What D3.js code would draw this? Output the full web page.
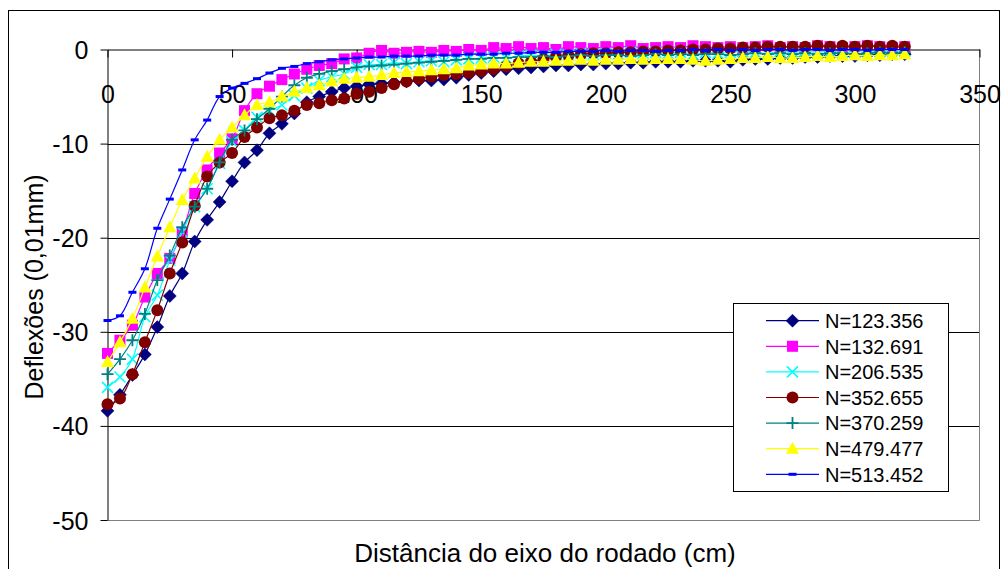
<!DOCTYPE html>
<html><head><meta charset="utf-8">
<script src="https://cdn.jsdelivr.net/npm/d3@7"></script>
<style>
body{margin:0;background:#fff;}
svg{display:block;font-family:"Liberation Sans",Arial,sans-serif;}
</style></head>
<body>
<svg id="c" width="1003" height="569"></svg>
<script>
const distances = [0,5,10,15,20,25,30,35,40,45,50,55,60,65,70,75,80,85,90,95,100,105,110,115,120,125,130,135,140,145,150,155,160,165,170,175,180,185,190,195,200,205,210,215,220,225,230,235,240,245,250,255,260,265,270,275,280,285,290,295,300,305,310,315,320];

const n123356 = [-38.4,-36.7,-34.6,-32.4,-29.5,-26.2,-23.8,-20.4,-18.1,-16.2,-14.0,-12.0,-10.7,-8.9,-7.9,-6.8,-5.6,-5.0,-4.5,-4.1,-3.9,-3.7,-3.6,-3.5,-3.4,-3.3,-3.3,-3.2,-3.0,-2.7,-2.5,-2.3,-2.1,-2.0,-1.9,-1.8,-1.7,-1.7,-1.6,-1.6,-1.5,-1.5,-1.4,-1.4,-1.3,-1.3,-1.3,-1.2,-1.2,-1.2,-1.3,-1.1,-1.0,-1.0,-0.9,-0.9,-0.8,-0.8,-0.7,-0.7,-0.7,-0.6,-0.6,-0.5,-0.5];
const n132691 = [-32.3,-30.9,-29.3,-26.3,-23.8,-22.2,-19.4,-15.3,-12.8,-11.0,-9.5,-6.5,-4.7,-3.9,-3.2,-2.6,-2.1,-1.7,-1.5,-1.0,-0.9,-0.4,-0.1,-0.4,-0.3,-0.2,-0.3,-0.1,-0.2,0.0,-0.1,0.2,0.1,0.3,0.1,0.2,0.0,0.3,0.2,0.1,0.3,0.2,0.4,0.1,0.2,0.3,0.2,0.4,0.3,0.2,0.3,0.2,0.3,0.4,0.2,0.3,0.2,0.4,0.3,0.2,0.3,0.4,0.3,0.2,0.3];
const n206535 = [-35.9,-34.8,-32.9,-28.4,-26.1,-22.4,-19.4,-16.7,-14.8,-12.1,-9.8,-8.6,-7.2,-6.5,-5.9,-4.9,-4.1,-3.3,-2.9,-2.6,-1.9,-1.6,-1.6,-1.4,-1.5,-1.3,-1.2,-1.3,-1.1,-1.0,-0.9,-0.8,-0.9,-0.7,-0.6,-0.7,-0.5,-0.6,-0.4,-0.5,-0.4,-0.5,-0.3,-0.4,-0.3,-0.4,-0.3,-0.5,-0.3,-0.4,-0.3,-0.2,-0.3,-0.4,-0.2,-0.3,-0.2,-0.3,-0.2,-0.3,-0.2,-0.1,-0.2,-0.1,-0.2];
const n352655 = [-37.7,-37.1,-34.5,-31.1,-27.7,-23.8,-20.5,-16.6,-13.5,-12.0,-11.0,-9.3,-8.3,-7.3,-7.0,-6.5,-5.9,-5.7,-5.4,-5.2,-4.7,-4.5,-4.1,-3.7,-3.4,-3.1,-2.9,-2.7,-2.6,-2.5,-2.3,-2.1,-1.8,-1.5,-1.3,-1.0,-0.8,-0.6,-0.5,-0.4,-0.4,-0.3,-0.3,-0.2,-0.2,-0.1,-0.1,0.0,0.0,0.1,0.1,0.2,0.2,0.3,0.3,0.3,0.3,0.4,0.3,0.4,0.3,0.4,0.3,0.4,0.3];
const n370259 = [-34.5,-32.9,-30.9,-28.1,-24.5,-21.9,-18.9,-16.7,-14.8,-12.0,-9.6,-8.6,-7.4,-6.3,-5.0,-3.8,-3.0,-2.6,-2.3,-2.1,-1.9,-1.8,-1.7,-1.6,-1.5,-1.4,-1.3,-1.2,-1.1,-1.0,-1.0,-0.9,-0.9,-0.8,-0.8,-0.7,-0.8,-0.7,-0.6,-0.7,-0.6,-0.6,-0.7,-0.6,-0.5,-0.6,-0.5,-0.6,-0.5,-0.5,-0.6,-0.5,-0.4,-0.5,-0.4,-0.5,-0.4,-0.5,-0.4,-0.4,-0.5,-0.4,-0.3,-0.4,-0.3];
const n479477 = [-33.2,-31.1,-28.6,-25.3,-22.0,-18.9,-16.0,-13.7,-11.4,-9.6,-8.3,-7.0,-5.9,-5.6,-5.0,-4.5,-4.1,-3.8,-3.4,-3.1,-3.0,-2.9,-2.7,-2.5,-2.4,-2.3,-2.2,-2.1,-2.0,-1.7,-1.6,-1.5,-1.5,-1.4,-1.3,-1.3,-1.2,-1.2,-1.1,-1.2,-1.1,-1.1,-1.0,-1.1,-1.0,-1.0,-1.0,-1.1,-1.2,-1.1,-1.0,-0.9,-0.9,-0.8,-0.9,-0.9,-0.8,-0.7,-0.8,-0.7,-0.6,-0.7,-0.6,-0.6,-0.5];
const n513452 = [-28.8,-28.3,-25.8,-23.3,-19.0,-15.9,-12.8,-9.6,-7.5,-5.0,-4.1,-3.6,-3.1,-2.5,-2.0,-1.8,-1.5,-1.3,-1.1,-1.0,-0.9,-0.8,-0.8,-0.7,-0.7,-0.7,-0.6,-0.6,-0.6,-0.5,-0.5,-0.5,-0.4,-0.4,-0.3,-0.3,-0.3,-0.2,-0.2,-0.2,-0.1,-0.2,-0.1,-0.1,-0.2,-0.1,-0.1,0.0,-0.1,0.0,-0.1,0.0,-0.1,0.0,0.0,-0.1,0.0,0.0,-0.1,0.0,0.0,-0.1,0.0,0.0,0.0];

const seriesNames = ["N=123.356","N=132.691","N=206.535","N=352.655","N=370.259","N=479.477","N=513.452"];
const seriesValues = [n123356,n132691,n206535,n352655,n370259,n479477,n513452];
const seriesColors = ["#000080","#FF00FF","#00FFFF","#800000","#008080","#FFFF00","#0000FF"];
const seriesMarkers = ["diamond","square","x","circle","plus","triangle","dash"];

const xTicks = [0,50,100,150,200,250,300,350];
const yTicks = [0,-10,-20,-30,-40,-50];
const xTitle = "Distância do eixo do rodado (cm)";
const yTitle = "Deflexões (0,01mm)";

const svg = d3.select("#c");
const FONT = '"Liberation Sans",Arial,sans-serif';

// chart border
svg.append("rect").attr("x",8.5).attr("y",10.5).attr("width",991).attr("height",570)
  .attr("fill","#fff").attr("stroke","#000").attr("stroke-width",1);

const x = d3.scaleLinear().domain([0,350]).range([107.5,979.5]);
const y = d3.scaleLinear().domain([-50,0]).range([520,49.5]);

// gridlines
svg.append("g").selectAll("line").data(yTicks.filter(d=>d<0)).join("line")
  .attr("x1",x(0)).attr("x2",x(350))
  .attr("y1",d=>Math.round(y(d))+0.5).attr("y2",d=>Math.round(y(d))+0.5)
  .attr("stroke",d=>d===-50?"#808080":"#000").attr("stroke-width",1);
// right border of plot area
svg.append("line").attr("x1",Math.round(x(350))-0.5).attr("x2",Math.round(x(350))-0.5)
  .attr("y1",y(0)).attr("y2",Math.round(y(-50))+0.5).attr("stroke","#808080");

// axes
const xAxis = svg.append("g").attr("transform",`translate(0,${Math.round(y(0))-0.5})`)
  .call(d3.axisBottom(x).tickValues(xTicks).tickSize(8).tickSizeOuter(0).tickFormat(d=>String(d)));
xAxis.selectAll("text").attr("y",53).attr("dy",0).style("font-size","25px").style("font-family",FONT).attr("fill","#000");
xAxis.select(".domain").attr("stroke","#000");
xAxis.selectAll(".tick line").attr("stroke","#000");

const yAxis = svg.append("g").attr("transform",`translate(${Math.round(x(0))-0.5},0)`)
  .call(d3.axisLeft(y).tickValues(yTicks).tickSize(7).tickSizeOuter(0).tickFormat(d=>String(d)));
yAxis.selectAll("text").attr("x",-19).attr("dy","0.36em").style("font-size","25px").style("font-family",FONT).attr("fill","#000");
yAxis.select(".domain").attr("stroke","#000");
yAxis.selectAll(".tick line").attr("stroke","#000");

// marker drawing
function drawMarker(g, type, color, cx, cy){
  if(type==="diamond"){
    const p=d3.path(); p.moveTo(cx,cy-6.5); p.lineTo(cx+6.5,cy); p.lineTo(cx,cy+6.5); p.lineTo(cx-6.5,cy); p.closePath();
    g.append("path").attr("d",p.toString()).attr("fill",color).attr("stroke",color).attr("stroke-width",0.5);
  } else if(type==="square"){
    g.append("rect").attr("x",cx-5.5).attr("y",cy-5.5).attr("width",11).attr("height",11).attr("fill",color);
  } else if(type==="x"){
    const p=d3.path(); p.moveTo(cx-5.5,cy-5.5); p.lineTo(cx+5.5,cy+5.5); p.moveTo(cx+5.5,cy-5.5); p.lineTo(cx-5.5,cy+5.5);
    g.append("path").attr("d",p.toString()).attr("stroke",color).attr("stroke-width",1.6).attr("fill","none");
  } else if(type==="circle"){
    g.append("circle").attr("cx",cx).attr("cy",cy).attr("r",6).attr("fill",color);
  } else if(type==="plus"){
    const p=d3.path(); p.moveTo(cx-6,cy); p.lineTo(cx+6,cy); p.moveTo(cx,cy-6); p.lineTo(cx,cy+6);
    g.append("path").attr("d",p.toString()).attr("stroke",color).attr("stroke-width",1.8).attr("fill","none");
  } else if(type==="triangle"){
    const p=d3.path(); p.moveTo(cx,cy-7); p.lineTo(cx+6.5,cy+5); p.lineTo(cx-6.5,cy+5); p.closePath();
    g.append("path").attr("d",p.toString()).attr("fill",color);
  } else if(type==="dash"){
    g.append("rect").attr("x",cx-4).attr("y",cy-1.5).attr("width",8).attr("height",3).attr("fill",color);
  }
}

const line = d3.line().x(d=>x(d[0])).y(d=>y(d[1])).curve(d3.curveCatmullRom.alpha(0.5));

seriesValues.forEach((vals,si)=>{
  const pts = distances.map((dx,i)=>[dx,vals[i]]);
  const g = svg.append("g");
  g.append("path").attr("d",line(pts)).attr("fill","none").attr("stroke",seriesColors[si]).attr("stroke-width",1.2);
  pts.forEach(p=>drawMarker(g,seriesMarkers[si],seriesColors[si],x(p[0]),y(p[1])));
});

// axis titles
svg.append("text").attr("x",545).attr("y",562).attr("text-anchor","middle")
  .style("font-size","26px").style("font-family",FONT).text(xTitle);
svg.append("text").attr("transform","translate(43,287) rotate(-90)").attr("text-anchor","middle")
  .style("font-size","25px").style("font-family",FONT).text(yTitle);

// legend
const lg = svg.append("g");
lg.append("rect").attr("x",733.5).attr("y",303.5).attr("width",215).attr("height",188)
  .attr("fill","#fff").attr("stroke","#000").attr("stroke-width",1);
seriesNames.forEach((name,i)=>{
  const ry = 320.7 + i*25.6;
  lg.append("line").attr("x1",766).attr("x2",819).attr("y1",ry).attr("y2",ry).attr("stroke",seriesColors[i]).attr("stroke-width",1.2);
  drawMarker(lg,seriesMarkers[i],seriesColors[i],792.5,ry);
  lg.append("text").attr("x",825).attr("y",ry).attr("dy","0.36em")
    .style("font-size","20px").style("font-family",FONT).text(name);
});
</script>
</body></html>
